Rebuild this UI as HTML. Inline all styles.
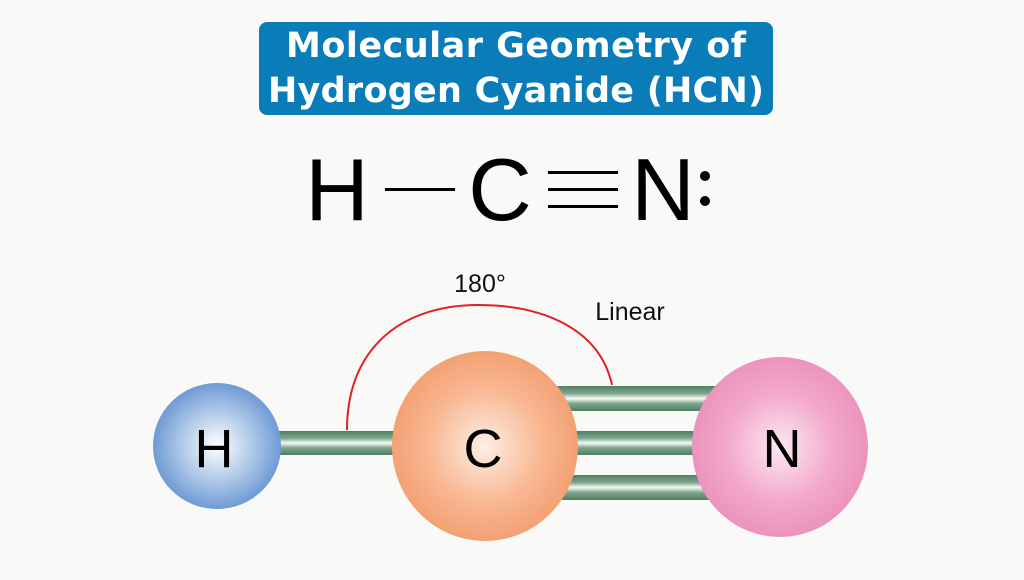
<!DOCTYPE html>
<html><head><style>
body{margin:0;width:1024px;height:576px;background:#f9f9f8;overflow:hidden;font-family:"DejaVu Sans","Liberation Sans",sans-serif;}
</style></head><body>
<svg width="1024" height="576" xmlns="http://www.w3.org/2000/svg">
<defs>
<linearGradient id="bond" x1="0" y1="0" x2="0" y2="1">
<stop offset="0" stop-color="#4e7f62"/><stop offset="0.3" stop-color="#7fa58e"/><stop offset="0.5" stop-color="#f4faf6"/><stop offset="0.7" stop-color="#7fa58e"/><stop offset="1" stop-color="#4e7f62"/>
</linearGradient>
<radialGradient id="gh" cx="0.5" cy="0.5" r="0.5"><stop offset="0" stop-color="#ffffff"/><stop offset="0.6" stop-color="#a8c4e6"/><stop offset="1" stop-color="#6f9ad4"/></radialGradient>
<radialGradient id="gc" cx="0.5" cy="0.5" r="0.5"><stop offset="0" stop-color="#fdeee4"/><stop offset="0.6" stop-color="#f8b893"/><stop offset="1" stop-color="#f3a173"/></radialGradient>
<radialGradient id="gn" cx="0.5" cy="0.5" r="0.5"><stop offset="0" stop-color="#fde8f2"/><stop offset="0.6" stop-color="#f2a9cb"/><stop offset="1" stop-color="#ec93bd"/></radialGradient>
</defs>
<rect x="259" y="22" width="514" height="93" rx="8" fill="#0a7db8"/>
<text x="516" y="57" text-anchor="middle" font-size="35" font-weight="bold" fill="#fff" textLength="460">Molecular Geometry of</text>
<text x="516" y="102" text-anchor="middle" font-size="35" font-weight="bold" fill="#fff" textLength="496">Hydrogen Cyanide (HCN)</text>
<g font-family="Liberation Sans, sans-serif" font-size="88" fill="#000">
<text x="337" y="220" text-anchor="middle">H</text>
<text x="500" y="220" text-anchor="middle">C</text>
<text x="663" y="220" text-anchor="middle">N</text>
</g>
<rect x="385" y="188" width="70" height="3" fill="#000"/>
<rect x="548" y="171" width="70" height="3" fill="#000"/>
<rect x="548" y="188" width="70" height="3" fill="#000"/>
<rect x="548" y="205" width="70" height="3" fill="#000"/>
<circle cx="705" cy="176" r="5" fill="#000"/>
<circle cx="705" cy="201" r="5" fill="#000"/>
<path d="M347 430 C347 345 405 305 478 305 C545 305 600 330 612 385" fill="none" stroke="#e0202a" stroke-width="2"/>
<text x="480" y="292" text-anchor="middle" font-size="25" fill="#111" font-family="Liberation Sans, sans-serif">180°</text>
<text x="630" y="320" text-anchor="middle" font-size="25" fill="#111" font-family="Liberation Sans, sans-serif">Linear</text>
<rect x="250" y="431" width="150" height="24" fill="url(#bond)"/>
<rect x="550" y="386" width="170" height="25" fill="url(#bond)"/>
<rect x="560" y="431" width="150" height="24" fill="url(#bond)"/>
<rect x="550" y="475" width="170" height="25" fill="url(#bond)"/>
<ellipse cx="217" cy="446" rx="64" ry="63" fill="url(#gh)"/>
<ellipse cx="485" cy="446" rx="93" ry="95" fill="url(#gc)"/>
<ellipse cx="780" cy="447" rx="88" ry="90" fill="url(#gn)"/>
<g font-size="54" fill="#000" text-anchor="middle" font-family="Liberation Sans, sans-serif">
<text x="214" y="467">H</text>
<text x="483" y="467">C</text>
<text x="782" y="467">N</text>
</g>
</svg>
</body></html>
